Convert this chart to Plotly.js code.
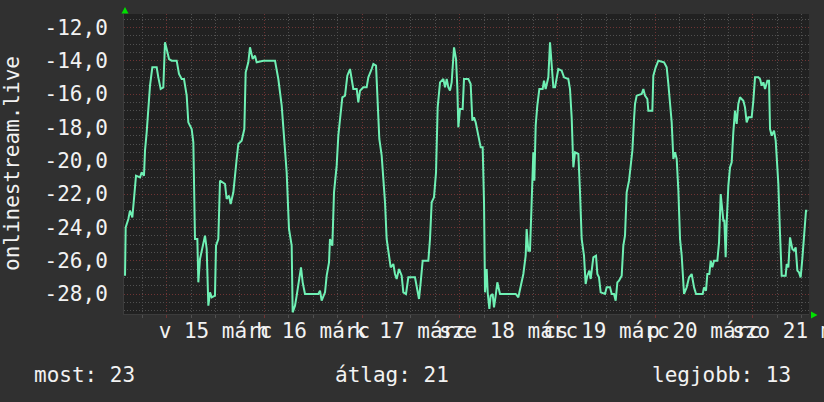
<!DOCTYPE html>
<html><head><meta charset="utf-8">
<script src="https://cdn.plot.ly/plotly-3.0.1.min.js"></script>
<style>html,body{margin:0;padding:0;background:#303030;}#chart{width:824px;height:402px;}</style>
</head><body><div id="chart"></div>
<script>
// hours since 15 márc 00:00
const hours = [
 -10.24,-10.08,-9.42,-9.02,-8.44,-8.03,-7.54,-6.56,-6.15,-5.58,-5.33,-4.92,-4.51,-4.10,-3.53,-2.46,-2.06,-1.48,-0.83,-0.42,
 -0.01,0.57,1.22,2.45,3.02,3.68,4.25,4.91,5.31,6.13,6.54,6.95,7.53,7.77,8.18,8.75,9.41,9.82,10.23,10.64,
 11.05,11.86,12.11,12.68,13.09,14.32,14.73,15.30,15.71,16.37,16.78,17.19,17.60,18.41,19.07,19.40,20.05,20.46,21.12,21.69,
 22.10,23.74,26.60,27.42,28.25,28.82,29.47,30.04,30.70,30.94,31.52,31.93,32.50,32.99,33.40,33.97,37.25,37.66,38.07,38.89,
 39.30,39.87,40.11,40.69,41.10,41.75,42.16,42.57,43.14,43.80,44.37,45.03,
 45.84,46.67,47.07,47.48,48.30,49.12,49.53,50.35,50.76,51.42,51.74,52.23,52.81,53.22,53.63,54.03,54.61,55.02,55.67,56.08,
 56.49,57.07,57.72,58.13,58.78,59.36,60.99,61.40,61.98,62.39,62.88,64.27,64.68,65.09,65.66,66.16,66.56,67.14,67.96,68.37,
 68.78,69.19,69.59,70.00,70.58,71.07,71.39,71.64,72.05,72.70,73.03,74.10,74.67,75.08,75.49,75.90,76.14,76.55,77.13,77.62,
 77.95,78.19,78.60,78.85,79.26,79.58,80.07,80.40,80.81,81.22,81.87,85.73,86.38,86.95,87.61,88.18,88.42,88.83,89.24,89.65,
 90.06,90.31,90.64,91.04,91.54,92.35,92.68,93.09,93.75,94.16,94.57,94.98,95.39,95.80,96.20,97.02,97.60,98.66,99.07,99.48,
 99.89,100.30,101.12,101.53,101.94,102.51,102.92,103.33,103.82,104.15,104.80,105.46,105.79,106.19,
 106.61,107.67,108.08,108.90,109.31,109.88,110.29,110.70,111.11,111.77,112.17,112.58,112.99,113.57,113.98,114.39,114.80,115.04,115.45,116.68,
 117.09,117.50,118.07,118.31,119.30,119.54,120.12,120.77,122.17,122.82,123.23,123.64,124.05,124.46,124.87,125.28,125.69,126.10,126.51,127.08,
 127.73,128.31,128.96,129.54,130.03,131.66,131.99,132.48,132.81,133.30,133.63,134.04,134.45,135.27,135.68,136.09,136.50,136.74,136.99,137.31,
 137.56,137.97,138.38,138.79,139.19,139.60,140.01,140.42,140.83,141.65,142.06,142.47,142.88,143.70,144.11,144.52,145.34,145.75,146.16,146.57,
 146.98,147.55,147.96,148.21,148.62,149.19,149.60,150.25,150.66,151.07,152.05,152.30,152.71,153.12,153.69,154.10,154.51,154.92,155.32,155.73,
 156.14,156.55,157.04,157.37
];
const values = [
 -26.9,-24.0,-23.5,-23.0,-23.4,-22.3,-20.9,-21.0,-20.7,-20.9,-19.4,-18.3,-16.9,-15.5,-14.4,-14.4,-15.0,-15.7,-15.6,-12.9,
 -13.3,-13.9,-14.0,-14.0,-14.8,-15.1,-15.1,-16.1,-17.7,-18.1,-18.9,-24.7,-24.7,-27.3,-25.9,-25.3,-24.5,-25.3,-28.7,-27.9,
 -28.2,-28.1,-25.1,-24.7,-21.2,-21.4,-22.3,-22.1,-22.6,-21.9,-20.7,-19.9,-19.0,-18.8,-18.1,-14.7,-14.1,-13.2,-13.9,-13.7,
 -14.1,-14.0,-14.0,-15.1,-16.7,-18.5,-20.7,-24.1,-25.1,-29.1,-28.7,-28.1,-27.3,-26.4,-27.3,-28.0,-28.0,-27.8,-28.4,-27.9,
 -26.9,-26.1,-24.7,-25.1,-21.9,-20.3,-18.5,-17.5,-16.2,-16.1,-14.9,-14.5,
 -15.7,-15.7,-16.5,-15.8,-15.6,-15.6,-15.0,-14.5,-14.2,-14.3,-16.2,-18.7,-19.7,-20.9,-22.5,-24.7,-25.9,-26.4,-26.2,-26.8,
 -27.1,-26.5,-26.9,-27.9,-28.0,-27.0,-27.0,-27.6,-28.3,-27.3,-26.0,-26.0,-24.7,-22.5,-22.2,-20.7,-16.8,-15.3,-15.1,-15.6,
 -15.1,-15.6,-15.8,-15.3,-13.2,-13.9,-15.6,-18.0,-16.9,-16.9,-15.1,-15.1,-15.4,-17.6,-17.4,-17.7,-18.1,-18.5,-19.2,-19.2,
 -22.5,-27.9,-26.5,-27.9,-28.9,-28.1,-28.0,-28.8,-28.1,-27.3,-28.0,-28.0,-28.2,-27.6,-26.8,-25.7,-24.1,-25.4,-25.4,-22.5,
 -19.5,-21.2,-17.9,-16.7,-15.7,-15.7,-15.2,-15.7,-15.0,-12.9,-14.1,-15.6,-15.6,-15.0,-14.5,-14.6,-15.0,-15.1,-15.7,-17.4,
 -20.4,-19.5,-19.6,-21.9,-24.7,-25.7,-27.4,-26.9,-26.6,-27.1,-25.8,-25.7,-26.8,-27.0,
 -27.9,-28.0,-27.6,-27.6,-28.0,-28.0,-28.4,-27.3,-27.2,-26.9,-25.1,-24.5,-21.9,-21.2,-20.4,-19.4,-17.5,-16.6,-16.1,-16.0,
 -15.7,-16.1,-16.3,-17.0,-17.0,-14.9,-14.4,-14.0,-14.1,-14.4,-15.4,-16.4,-17.7,-19.9,-19.5,-19.9,-21.8,-24.7,-25.7,-28.0,
 -27.6,-27.0,-26.8,-27.6,-28.0,-28.0,-27.6,-27.8,-26.8,-26.8,-26.0,-26.4,-26.0,-26.0,-24.9,-22.0,-22.8,-23.6,-23.6,-25.8,
 -23.7,-21.5,-20.4,-20.1,-18.3,-17.0,-17.8,-16.6,-16.2,-16.4,-16.8,-17.7,-17.4,-17.4,-16.4,-15.0,-15.0,-15.1,-15.5,-15.3,
 -15.7,-15.2,-15.2,-18.1,-18.5,-18.2,-18.8,-21.4,-24.4,-26.9,-26.9,-26.2,-26.4,-24.6,-25.3,-25.4,-25.2,-26.6,-26.7,-27.0,
 -25.9,-24.7,-23.0,-23.0
];
const dayTickHours = [0, 24, 48, 72, 96, 120, 144];
const dayLabelHours = [12, 36, 60, 84, 108, 132, 156];
const dayLabels = ["v 15 márc", "h 16 márc", "k 17 márc", "sze 18 márc", "cs 19 márc", "p 20 márc", "szo 21 márc"];
const yTickVals = [-12, -14, -16, -18, -20, -22, -24, -26, -28];
const yTickText = ["-12,0", "-14,0", "-16,0", "-18,0", "-20,0", "-22,0", "-24,0", "-26,0", "-28,0"];
const seriesName = "onlinestream.live";
const statLabels = ["most", "átlag", "legjobb"];
const statValues = [23, 21, 13];

const FONT = '"DejaVu Sans Mono", monospace';
const TXT = '#f2f2f2';
const RED = '#6e3434';
const GREY = '#505050';
const XR = [-10.49, 157.78];
const DASH = '1px,2px';

const traces = [
  {x: hours, y: values, type: 'scatter', mode: 'lines', name: seriesName,
   line: {color: '#6ff0b4', width: 2}, hoverinfo: 'skip'},
  {x: dayLabelHours, y: dayLabelHours.map(() => null), xaxis: 'x2', yaxis: 'y',
   type: 'scatter', mode: 'lines', showlegend: false, hoverinfo: 'skip'}
];

const px = v => (v - 124) / 685;
const py = v => (314 - v) / 300;

const layout = {
  width: 824, height: 402,
  margin: {l: 124, r: 15, t: 14, b: 88, pad: 0},
  paper_bgcolor: '#303030', plot_bgcolor: '#212121',
  showlegend: false,
  font: {family: FONT, size: 21, color: TXT},
  xaxis: {
    range: XR, tickmode: 'array', tickvals: dayTickHours, showticklabels: false,
    showgrid: true, gridcolor: RED, griddash: DASH, gridwidth: 1, zeroline: false,
    ticks: 'outside', ticklen: 3, tickcolor: RED, showline: true, linecolor: '#3c3c3c', linewidth: 1,
    minor: {tickmode: 'linear', tick0: 0, dtick: 6, showgrid: true, gridcolor: GREY, griddash: DASH,
            ticks: 'outside', ticklen: 3, tickcolor: GREY}
  },
  xaxis2: {
    overlaying: 'x', anchor: 'y', side: 'bottom', range: XR,
    tickmode: 'array', tickvals: dayLabelHours, ticktext: dayLabels, tickangle: 0,
    showgrid: false, zeroline: false, ticks: '', ticklabelstandoff: 2, ticklabeloverflow: 'allow',
    tickfont: {family: FONT, size: 21, color: TXT}
  },
  yaxis: {
    range: [-29.2, -11.2], tickmode: 'array', tickvals: yTickVals, ticktext: yTickText,
    showgrid: true, gridcolor: RED, griddash: DASH, gridwidth: 1, zeroline: false,
    ticks: '', ticklabelstandoff: 11, showline: true, linecolor: '#3c3c3c',
    tickfont: {family: FONT, size: 21, color: TXT},
    minor: {tickmode: 'linear', tick0: -12, dtick: 0.5, showgrid: true, gridcolor: GREY, griddash: DASH}
  },
  shapes: [
    {type: 'path', xref: 'paper', yref: 'paper', fillcolor: '#00e000', line: {width: 0},
     path: `M ${px(121.5)} ${py(13.5)} L ${px(128.5)} ${py(13.5)} L ${px(125)} ${py(7)} Z`},
    {type: 'path', xref: 'paper', yref: 'paper', fillcolor: '#00e000', line: {width: 0},
     path: `M ${px(811)} ${py(311.5)} L ${px(811)} ${py(318.5)} L ${px(817.5)} ${py(315)} Z`}
  ],
  annotations: [
    {text: seriesName, xref: 'paper', yref: 'paper', x: px(12), y: 0.5, textangle: -90,
     xanchor: 'center', yanchor: 'middle', showarrow: false, font: {family: FONT, size: 21, color: TXT}},
    {text: statLabels[0] + ': ' + statValues[0], xref: 'paper', yref: 'paper', x: px(32), y: py(375),
     xanchor: 'left', yanchor: 'middle', showarrow: false, font: {family: FONT, size: 21, color: TXT}},
    {text: statLabels[1] + ': ' + statValues[1], xref: 'paper', yref: 'paper', x: px(333), y: py(375),
     xanchor: 'left', yanchor: 'middle', showarrow: false, font: {family: FONT, size: 21, color: TXT}},
    {text: statLabels[2] + ': ' + statValues[2], xref: 'paper', yref: 'paper', x: px(793), y: py(375),
     xanchor: 'right', yanchor: 'middle', showarrow: false, font: {family: FONT, size: 21, color: TXT}}
  ]
};

Plotly.newPlot('chart', traces, layout, {displayModeBar: false, staticPlot: true});
</script>
</body></html>
